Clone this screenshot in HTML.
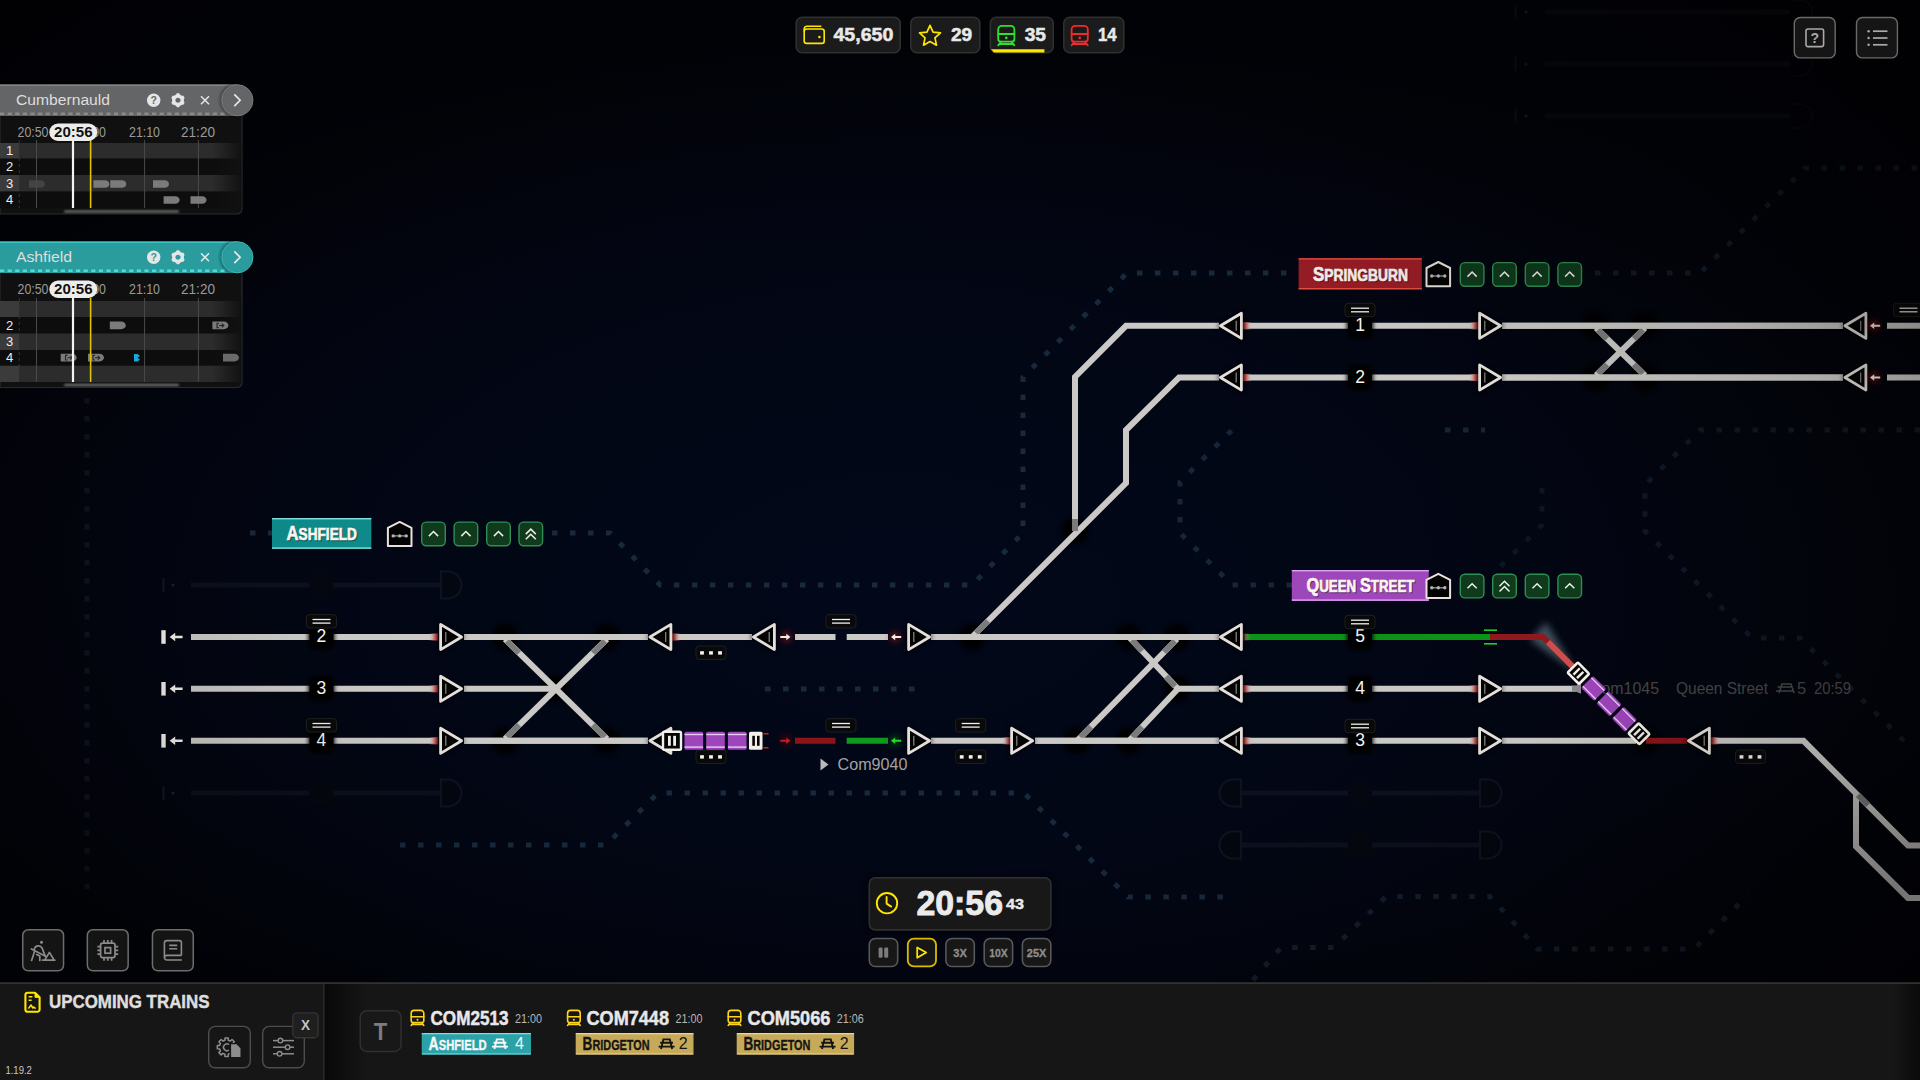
<!DOCTYPE html>
<html lang="en"><head><meta charset="utf-8"><title>Rail Route</title>
<style>html,body{margin:0;padding:0;background:#02040b;overflow:hidden}body{width:1920px;height:1080px;position:relative;font-family:"Liberation Sans", sans-serif}#bg{position:absolute;left:0;top:0;width:1920px;height:1080px;background:radial-gradient(ellipse 1000px 560px at 900px 600px,#02081a 0%,#020716 45%,rgba(2,5,14,0) 100%),radial-gradient(ellipse 1300px 800px at 900px 560px,#020511 0%,#02040b 70%,#010207 100%)}svg{position:absolute;left:0;top:0}text{font-family:"Liberation Sans", sans-serif}</style></head><body>
<div id="bg"></div>
<svg width="1920" height="1080" viewBox="0 0 1920 1080">
<defs>
<filter id="b1" x="-50%" y="-50%" width="200%" height="200%"><feGaussianBlur stdDeviation="1"/></filter>
<filter id="b2" x="-50%" y="-50%" width="200%" height="200%"><feGaussianBlur stdDeviation="2"/></filter>
<filter id="b25" x="-50%" y="-50%" width="200%" height="200%"><feGaussianBlur stdDeviation="2.6"/></filter>
<filter id="b3" x="-50%" y="-50%" width="200%" height="200%"><feGaussianBlur stdDeviation="3.5"/></filter>
<filter id="b8" x="-50%" y="-50%" width="200%" height="200%"><feGaussianBlur stdDeviation="8"/></filter>
<linearGradient id="rfR" x1="0" x2="1" y1="0" y2="0"><stop offset="0" stop-color="#a81616"/><stop offset="0.4" stop-color="#c8605a" stop-opacity="0.85"/><stop offset="1" stop-color="#d9b9b5" stop-opacity="0"/></linearGradient>
<linearGradient id="rfL" x1="1" x2="0" y1="0" y2="0"><stop offset="0" stop-color="#a81616"/><stop offset="0.4" stop-color="#c8605a" stop-opacity="0.85"/><stop offset="1" stop-color="#d9b9b5" stop-opacity="0"/></linearGradient>
<linearGradient id="fadeR" x1="0" x2="1" y1="0" y2="0"><stop offset="0" stop-color="#111" stop-opacity="0"/><stop offset="1" stop-color="#111" stop-opacity="1"/></linearGradient>
</defs>
<g id="map">
<path d="M250,533 H272" fill="none" stroke="#19293d" stroke-width="5" stroke-dasharray="5.5 12.5" opacity="1.0"/>
<path d="M552,533 H610 L660,585 H972 L1023,533 V377 L1127,273 H1298" fill="none" stroke="#19293d" stroke-width="5" stroke-dasharray="5.5 12.5" opacity="1.0"/>
<path d="M1595,273 H1700 L1805,168 H1920" fill="none" stroke="#19293d" stroke-width="5" stroke-dasharray="5.5 12.5" opacity="0.6"/>
<path d="M765,689 H915" fill="none" stroke="#19293d" stroke-width="5" stroke-dasharray="5.5 12.5" opacity="1.0"/>
<path d="M400,845 H606 L658,793 H1024 L1128,897 H1225" fill="none" stroke="#19293d" stroke-width="5" stroke-dasharray="5.5 12.5" opacity="1.0"/>
<path d="M1292,585 H1232 L1180,533 V482 L1232,430" fill="none" stroke="#19293d" stroke-width="5" stroke-dasharray="5.5 12.5" opacity="0.9"/>
<path d="M1445,430 H1485" fill="none" stroke="#19293d" stroke-width="5" stroke-dasharray="5.5 12.5" opacity="0.9"/>
<path d="M1920,430 H1700 L1645,485 V531 L1752,638 H1800 L1905,742" fill="none" stroke="#19293d" stroke-width="5" stroke-dasharray="5.5 12.5" opacity="0.5"/>
<path d="M1542,488 V525 L1492,575" fill="none" stroke="#19293d" stroke-width="5" stroke-dasharray="5.5 12.5" opacity="0.45"/>
<path d="M1540,0 L1640,100 L1760,221 L1920,221" fill="none" stroke="#19293d" stroke-width="5" stroke-dasharray="5.5 12.5" opacity="0.0"/>
<path d="M87,380 V900" fill="none" stroke="#19293d" stroke-width="5" stroke-dasharray="5.5 12.5" opacity="0.45"/>
<path d="M1040,100 H1180 L1230,50" fill="none" stroke="#19293d" stroke-width="5" stroke-dasharray="5.5 12.5" opacity="0.0"/>
<path d="M1253,980 L1281,947.5 H1334 L1386,896.5 H1490 L1537.5,949 H1694 L1748,895" fill="none" stroke="#19293d" stroke-width="5" stroke-dasharray="5.5 12.5" opacity="0.7"/>
<g opacity="0.5"><line x1="191" y1="585" x2="440" y2="585" stroke="#151b26" stroke-width="5"/><rect x="309" y="573" width="24" height="24" rx="5" fill="#06080c"/><path d="M441,571.5 h7 a13.5,13.5 0 0 1 0,27 h-7 z" fill="#05070b" stroke="#18202c" stroke-width="2"/><line x1="163.5" y1="578" x2="163.5" y2="592" stroke="#222a38" stroke-width="2"/><circle cx="173" cy="585" r="1.6" fill="#2b3f66"/></g>
<g opacity="0.5"><line x1="191" y1="793" x2="440" y2="793" stroke="#151b26" stroke-width="5"/><rect x="309" y="781" width="24" height="24" rx="5" fill="#06080c"/><path d="M441,779.5 h7 a13.5,13.5 0 0 1 0,27 h-7 z" fill="#05070b" stroke="#18202c" stroke-width="2"/><line x1="163.5" y1="786" x2="163.5" y2="800" stroke="#222a38" stroke-width="2"/><circle cx="173" cy="793" r="1.6" fill="#2b3f66"/></g>
<g opacity="0.5"><line x1="1242" y1="793" x2="1479" y2="793" stroke="#151b26" stroke-width="5"/><rect x="1348" y="781" width="24" height="24" rx="5" fill="#06080c"/><path d="M1480,779.5 h8 a13.5,13.5 0 0 1 0,27 h-8 z" fill="#05070b" stroke="#18202c" stroke-width="2"/><path d="M1241,779.5 h-8 a13.5,13.5 0 0 0 0,27 h8 z" fill="#05070b" stroke="#18202c" stroke-width="2"/></g>
<g opacity="0.5"><line x1="1242" y1="845" x2="1479" y2="845" stroke="#151b26" stroke-width="5"/><rect x="1348" y="833" width="24" height="24" rx="5" fill="#06080c"/><path d="M1480,831.5 h8 a13.5,13.5 0 0 1 0,27 h-8 z" fill="#05070b" stroke="#18202c" stroke-width="2"/><path d="M1241,831.5 h-8 a13.5,13.5 0 0 0 0,27 h8 z" fill="#05070b" stroke="#18202c" stroke-width="2"/></g>
<g opacity="0.5"><line x1="1545" y1="12" x2="1790" y2="12" stroke="#0e131c" stroke-width="5"/><line x1="1515.5" y1="5" x2="1515.5" y2="19" stroke="#1a2231" stroke-width="2"/><circle cx="1526" cy="12" r="1.6" fill="#2b3f66"/><path d="M1792,0 h8 a12,12 0 0 1 0,24 h-8" fill="none" stroke="#0c1018" stroke-width="2"/></g>
<g opacity="0.5"><line x1="1545" y1="64" x2="1790" y2="64" stroke="#0e131c" stroke-width="5"/><line x1="1515.5" y1="57" x2="1515.5" y2="71" stroke="#1a2231" stroke-width="2"/><circle cx="1526" cy="64" r="1.6" fill="#2b3f66"/><path d="M1792,52 h8 a12,12 0 0 1 0,24 h-8" fill="none" stroke="#0c1018" stroke-width="2"/></g>
<g opacity="0.5"><line x1="1545" y1="116" x2="1790" y2="116" stroke="#0e131c" stroke-width="5"/><line x1="1515.5" y1="109" x2="1515.5" y2="123" stroke="#1a2231" stroke-width="2"/><circle cx="1526" cy="116" r="1.6" fill="#2b3f66"/><path d="M1792,104 h8 a12,12 0 0 1 0,24 h-8" fill="none" stroke="#0c1018" stroke-width="2"/></g>
<circle cx="505" cy="637.0" r="13.5" fill="#000" opacity="0.92" filter="url(#b25)"/>
<circle cx="607" cy="637.0" r="13.5" fill="#000" opacity="0.92" filter="url(#b25)"/>
<circle cx="505" cy="740.8" r="13.5" fill="#000" opacity="0.92" filter="url(#b25)"/>
<circle cx="607" cy="740.8" r="13.5" fill="#000" opacity="0.92" filter="url(#b25)"/>
<circle cx="972" cy="637.0" r="13.5" fill="#000" opacity="0.92" filter="url(#b25)"/>
<circle cx="1129" cy="637.0" r="13.5" fill="#000" opacity="0.92" filter="url(#b25)"/>
<circle cx="1177" cy="637.0" r="13.5" fill="#000" opacity="0.92" filter="url(#b25)"/>
<circle cx="1177" cy="688.8" r="13.5" fill="#000" opacity="0.92" filter="url(#b25)"/>
<circle cx="1077" cy="740.8" r="13.5" fill="#000" opacity="0.92" filter="url(#b25)"/>
<circle cx="1129" cy="740.8" r="13.5" fill="#000" opacity="0.92" filter="url(#b25)"/>
<circle cx="1596" cy="325.8" r="13.5" fill="#000" opacity="0.92" filter="url(#b25)"/>
<circle cx="1645" cy="325.8" r="13.5" fill="#000" opacity="0.92" filter="url(#b25)"/>
<circle cx="1596" cy="377.5" r="13.5" fill="#000" opacity="0.92" filter="url(#b25)"/>
<circle cx="1645" cy="377.5" r="13.5" fill="#000" opacity="0.92" filter="url(#b25)"/>
<circle cx="1075" cy="531" r="13.5" fill="#000" opacity="0.92" filter="url(#b25)"/>
<circle cx="1646" cy="740.8" r="13.5" fill="#000" opacity="0.92" filter="url(#b25)"/>
<circle cx="555" cy="688.8" r="13.5" fill="#000" opacity="0.92" filter="url(#b25)"/>
<rect x="161.3" y="630.2" width="4.4" height="13.6" fill="#f4efe9"/>
<path d="M169.6,637.0 l5.6,-4.2 v2.9 h7.4 v2.6 h-7.4 v2.9 z" fill="#f6f1ec"/>
<line x1="191" y1="637.0" x2="309.5" y2="637.0" stroke="#cbc9c6" stroke-width="6" />
<line x1="333.5" y1="637.0" x2="438" y2="637.0" stroke="#cbc9c6" stroke-width="6" />
<rect x="429" y="633.4" width="9" height="7.2" fill="url(#rfL)"/>
<rect x="161.3" y="682.0" width="4.4" height="13.6" fill="#f4efe9"/>
<path d="M169.6,688.8 l5.6,-4.2 v2.9 h7.4 v2.6 h-7.4 v2.9 z" fill="#f6f1ec"/>
<line x1="191" y1="688.8" x2="309.5" y2="688.8" stroke="#cbc9c6" stroke-width="6" />
<line x1="333.5" y1="688.8" x2="438" y2="688.8" stroke="#cbc9c6" stroke-width="6" />
<rect x="429" y="685.1999999999999" width="9" height="7.2" fill="url(#rfL)"/>
<rect x="161.3" y="734.0" width="4.4" height="13.6" fill="#f4efe9"/>
<path d="M169.6,740.8 l5.6,-4.2 v2.9 h7.4 v2.6 h-7.4 v2.9 z" fill="#f6f1ec"/>
<line x1="191" y1="740.8" x2="309.5" y2="740.8" stroke="#cbc9c6" stroke-width="6" />
<line x1="333.5" y1="740.8" x2="438" y2="740.8" stroke="#cbc9c6" stroke-width="6" />
<rect x="429" y="737.1999999999999" width="9" height="7.2" fill="url(#rfL)"/>
<line x1="464" y1="637.0" x2="648" y2="637.0" stroke="#cbc9c6" stroke-width="6" />
<line x1="464" y1="740.8" x2="648" y2="740.8" stroke="#cbc9c6" stroke-width="6" />
<line x1="464" y1="688.8" x2="557" y2="688.8" stroke="#cbc9c6" stroke-width="6" />
<line x1="505" y1="639.0" x2="607" y2="738.8" stroke="#cbc9c6" stroke-width="6" />
<line x1="607" y1="639.0" x2="505" y2="738.8" stroke="#cbc9c6" stroke-width="6" />
<line x1="507" y1="641.0" x2="519" y2="653.0" stroke="#7b7b7b" stroke-width="6" />
<line x1="605" y1="641.0" x2="593" y2="653.0" stroke="#7b7b7b" stroke-width="6" />
<line x1="507" y1="736.8" x2="519" y2="724.8" stroke="#7b7b7b" stroke-width="6" />
<line x1="605" y1="736.8" x2="593" y2="724.8" stroke="#7b7b7b" stroke-width="6" />
<line x1="464" y1="637.0" x2="648" y2="637.0" stroke="#cbc9c6" stroke-width="6" />
<line x1="464" y1="740.8" x2="648" y2="740.8" stroke="#cbc9c6" stroke-width="6" />
<line x1="672" y1="637.0" x2="752" y2="637.0" stroke="#cbc9c6" stroke-width="6" />
<rect x="672" y="633.4" width="9" height="7.2" fill="url(#rfR)"/>
<line x1="795" y1="637.0" x2="835.5" y2="637.0" stroke="#cbc9c6" stroke-width="6" />
<line x1="846.7" y1="637.0" x2="888" y2="637.0" stroke="#cbc9c6" stroke-width="6" />
<line x1="931" y1="637.0" x2="1219" y2="637.0" stroke="#cbc9c6" stroke-width="6" />
<line x1="795" y1="740.8" x2="835.5" y2="740.8" stroke="#8c1418" stroke-width="6" />
<line x1="846.7" y1="740.8" x2="888" y2="740.8" stroke="#0f9a1c" stroke-width="6" />
<line x1="931" y1="740.8" x2="1011" y2="740.8" stroke="#cbc9c6" stroke-width="6" />
<rect x="1002" y="737.1999999999999" width="9" height="7.2" fill="url(#rfL)"/>
<line x1="1035" y1="740.8" x2="1219" y2="740.8" stroke="#cbc9c6" stroke-width="6" />
<path d="M972,637.0 L1126,483 V430 L1179,377.5 H1219" fill="none" stroke="#cbc9c6" stroke-width="6" />
<path d="M1075,531 V377 L1126,325.8 H1219" fill="none" stroke="#cbc9c6" stroke-width="6" />
<line x1="976" y1="633.0" x2="988" y2="621.0" stroke="#7b7b7b" stroke-width="6" />
<line x1="1075" y1="531" x2="1075" y2="519" stroke="#7b7b7b" stroke-width="6" />
<line x1="931" y1="637.0" x2="1219" y2="637.0" stroke="#cbc9c6" stroke-width="6" />
<line x1="1129" y1="637.0" x2="1178" y2="688.8" stroke="#cbc9c6" stroke-width="6" />
<line x1="1177" y1="688.8" x2="1219" y2="688.8" stroke="#cbc9c6" stroke-width="6" />
<line x1="1177" y1="639.0" x2="1078" y2="739.8" stroke="#cbc9c6" stroke-width="6" />
<line x1="1178" y1="688.8" x2="1130" y2="739.8" stroke="#cbc9c6" stroke-width="6" />
<line x1="1132" y1="640.0" x2="1142" y2="651.0" stroke="#7b7b7b" stroke-width="6" />
<line x1="1175" y1="641.0" x2="1164" y2="652.0" stroke="#7b7b7b" stroke-width="6" />
<line x1="1080.5" y1="737.3" x2="1091" y2="726.8" stroke="#7b7b7b" stroke-width="6" />
<line x1="1132.5" y1="737.3" x2="1142" y2="726.8" stroke="#7b7b7b" stroke-width="6" />
<line x1="1166" y1="676.8" x2="1175" y2="686.3" stroke="#7b7b7b" stroke-width="6" />
<line x1="931" y1="637.0" x2="1219" y2="637.0" stroke="#cbc9c6" stroke-width="6" />
<line x1="1035" y1="740.8" x2="1219" y2="740.8" stroke="#cbc9c6" stroke-width="6" />
<line x1="1243" y1="325.8" x2="1348" y2="325.8" stroke="#cbc9c6" stroke-width="6" />
<line x1="1372" y1="325.8" x2="1478" y2="325.8" stroke="#cbc9c6" stroke-width="6" />
<rect x="1243" y="322.2" width="9" height="7.2" fill="url(#rfR)"/>
<rect x="1469" y="322.2" width="9" height="7.2" fill="url(#rfL)"/>
<line x1="1502" y1="325.8" x2="1843" y2="325.8" stroke="#cbc9c6" stroke-width="6" />
<line x1="1887" y1="325.8" x2="1920" y2="325.8" stroke="#cbc9c6" stroke-width="6" />
<line x1="1243" y1="377.5" x2="1348" y2="377.5" stroke="#cbc9c6" stroke-width="6" />
<line x1="1372" y1="377.5" x2="1478" y2="377.5" stroke="#cbc9c6" stroke-width="6" />
<rect x="1243" y="373.9" width="9" height="7.2" fill="url(#rfR)"/>
<rect x="1469" y="373.9" width="9" height="7.2" fill="url(#rfL)"/>
<line x1="1502" y1="377.5" x2="1843" y2="377.5" stroke="#cbc9c6" stroke-width="6" />
<line x1="1887" y1="377.5" x2="1920" y2="377.5" stroke="#cbc9c6" stroke-width="6" />
<line x1="1596" y1="327.8" x2="1645" y2="375.5" stroke="#cbc9c6" stroke-width="6" />
<line x1="1645" y1="327.8" x2="1596" y2="375.5" stroke="#cbc9c6" stroke-width="6" />
<line x1="1598" y1="329.8" x2="1607" y2="338.8" stroke="#7b7b7b" stroke-width="6" />
<line x1="1643" y1="329.8" x2="1634" y2="338.8" stroke="#7b7b7b" stroke-width="6" />
<line x1="1598" y1="373.5" x2="1607" y2="364.5" stroke="#7b7b7b" stroke-width="6" />
<line x1="1643" y1="373.5" x2="1634" y2="364.5" stroke="#7b7b7b" stroke-width="6" />
<line x1="1502" y1="325.8" x2="1843" y2="325.8" stroke="#cbc9c6" stroke-width="6" />
<line x1="1502" y1="377.5" x2="1843" y2="377.5" stroke="#cbc9c6" stroke-width="6" />
<line x1="1245" y1="637.0" x2="1348" y2="637.0" stroke="#0d9218" stroke-width="6" />
<line x1="1372" y1="637.0" x2="1490" y2="637.0" stroke="#0d9218" stroke-width="6" />
<rect x="1242" y="633.5" width="8" height="7" fill="url(#rfR)" opacity="0.6"/>
<path d="M1577,673 L1530,640 L1546,622 Z" fill="#7d97a8" opacity="0.5" filter="url(#b3)"/>
<path d="M1490,637.0 H1543 L1580,674.0" fill="none" stroke="#8e1a1d" stroke-width="6" />
<path d="M1548,642.0 L1582,676.0" fill="none" stroke="#c9504c" stroke-width="6" />
<line x1="1484" y1="630.2" x2="1497" y2="630.2" stroke="#1fd02a" stroke-width="1.6" />
<line x1="1484" y1="643.8" x2="1497" y2="643.8" stroke="#1fd02a" stroke-width="1.6" />
<line x1="1243" y1="688.8" x2="1348" y2="688.8" stroke="#cbc9c6" stroke-width="6" />
<line x1="1372" y1="688.8" x2="1478" y2="688.8" stroke="#cbc9c6" stroke-width="6" />
<rect x="1243" y="685.1999999999999" width="9" height="7.2" fill="url(#rfR)"/>
<rect x="1469" y="685.1999999999999" width="9" height="7.2" fill="url(#rfL)"/>
<line x1="1243" y1="740.8" x2="1348" y2="740.8" stroke="#cbc9c6" stroke-width="6" />
<line x1="1372" y1="740.8" x2="1478" y2="740.8" stroke="#cbc9c6" stroke-width="6" />
<rect x="1243" y="737.1999999999999" width="9" height="7.2" fill="url(#rfR)"/>
<rect x="1469" y="737.1999999999999" width="9" height="7.2" fill="url(#rfL)"/>
<line x1="1502" y1="688.8" x2="1576" y2="688.8" stroke="#cbc9c6" stroke-width="6" />
<path d="M1572,685.8 h4 l5,-4 v12 l-5,-2 h-4 z" fill="#8a8a8a"/>
<line x1="1502" y1="740.8" x2="1636" y2="740.8" stroke="#cbc9c6" stroke-width="6" />
<line x1="1646" y1="740.8" x2="1687" y2="740.8" stroke="#8c1418" stroke-width="6" />
<path d="M1711,740.8 H1803.5 L1908,845.5 H1920" fill="none" stroke="#cbc9c6" stroke-width="6" />
<path d="M1856,793 V846.5 L1908,898 H1920" fill="none" stroke="#cbc9c6" stroke-width="6" />
<rect x="1711" y="737.1999999999999" width="9" height="7.2" fill="url(#rfR)"/>
<line x1="1858" y1="795" x2="1868" y2="805" stroke="#7b7b7b" stroke-width="6" />
<polygon points="440.6,624.4 440.6,649.6 461.6,637.0" fill="#000" stroke="#000" stroke-width="6" stroke-linejoin="round" opacity="0.55" filter="url(#b2)"/>
<polygon points="440.6,624.4 440.6,649.6 461.6,637.0" fill="#020202" stroke="#e4dfda" stroke-width="2.8" stroke-linejoin="round"/>
<line x1="445.8" y1="632.0" x2="445.8" y2="642.0" stroke="#8d8a88" stroke-width="1.2"/>
<polygon points="440.6,676.1999999999999 440.6,701.4 461.6,688.8" fill="#000" stroke="#000" stroke-width="6" stroke-linejoin="round" opacity="0.55" filter="url(#b2)"/>
<polygon points="440.6,676.1999999999999 440.6,701.4 461.6,688.8" fill="#020202" stroke="#e4dfda" stroke-width="2.8" stroke-linejoin="round"/>
<line x1="445.8" y1="683.8" x2="445.8" y2="693.8" stroke="#8d8a88" stroke-width="1.2"/>
<polygon points="440.6,728.1999999999999 440.6,753.4 461.6,740.8" fill="#000" stroke="#000" stroke-width="6" stroke-linejoin="round" opacity="0.55" filter="url(#b2)"/>
<polygon points="440.6,728.1999999999999 440.6,753.4 461.6,740.8" fill="#020202" stroke="#e4dfda" stroke-width="2.8" stroke-linejoin="round"/>
<line x1="445.8" y1="735.8" x2="445.8" y2="745.8" stroke="#8d8a88" stroke-width="1.2"/>
<polygon points="670.9,624.4 670.9,649.6 649.9,637.0" fill="#000" stroke="#000" stroke-width="6" stroke-linejoin="round" opacity="0.55" filter="url(#b2)"/>
<polygon points="670.9,624.4 670.9,649.6 649.9,637.0" fill="#020202" stroke="#e4dfda" stroke-width="2.8" stroke-linejoin="round"/>
<line x1="665.7" y1="632.0" x2="665.7" y2="642.0" stroke="#8d8a88" stroke-width="1.2"/>
<polygon points="774.4,624.4 774.4,649.6 753.4,637.0" fill="#000" stroke="#000" stroke-width="6" stroke-linejoin="round" opacity="0.55" filter="url(#b2)"/>
<polygon points="774.4,624.4 774.4,649.6 753.4,637.0" fill="#020202" stroke="#e4dfda" stroke-width="2.8" stroke-linejoin="round"/>
<line x1="769.2" y1="632.0" x2="769.2" y2="642.0" stroke="#8d8a88" stroke-width="1.2"/>
<polygon points="908.6,624.4 908.6,649.6 929.6,637.0" fill="#000" stroke="#000" stroke-width="6" stroke-linejoin="round" opacity="0.55" filter="url(#b2)"/>
<polygon points="908.6,624.4 908.6,649.6 929.6,637.0" fill="#020202" stroke="#e4dfda" stroke-width="2.8" stroke-linejoin="round"/>
<line x1="913.8" y1="632.0" x2="913.8" y2="642.0" stroke="#8d8a88" stroke-width="1.2"/>
<polygon points="670.9,728.1999999999999 670.9,753.4 649.9,740.8" fill="#000" stroke="#000" stroke-width="6" stroke-linejoin="round" opacity="0.55" filter="url(#b2)"/>
<polygon points="670.9,728.1999999999999 670.9,753.4 649.9,740.8" fill="#020202" stroke="#e4dfda" stroke-width="2.8" stroke-linejoin="round"/>
<line x1="665.7" y1="735.8" x2="665.7" y2="745.8" stroke="#8d8a88" stroke-width="1.2"/>
<polygon points="908.6,728.1999999999999 908.6,753.4 929.6,740.8" fill="#000" stroke="#000" stroke-width="6" stroke-linejoin="round" opacity="0.55" filter="url(#b2)"/>
<polygon points="908.6,728.1999999999999 908.6,753.4 929.6,740.8" fill="#020202" stroke="#e4dfda" stroke-width="2.8" stroke-linejoin="round"/>
<line x1="913.8" y1="735.8" x2="913.8" y2="745.8" stroke="#8d8a88" stroke-width="1.2"/>
<polygon points="1011.6,728.1999999999999 1011.6,753.4 1032.6,740.8" fill="#000" stroke="#000" stroke-width="6" stroke-linejoin="round" opacity="0.55" filter="url(#b2)"/>
<polygon points="1011.6,728.1999999999999 1011.6,753.4 1032.6,740.8" fill="#020202" stroke="#e4dfda" stroke-width="2.8" stroke-linejoin="round"/>
<line x1="1016.8" y1="735.8" x2="1016.8" y2="745.8" stroke="#8d8a88" stroke-width="1.2"/>
<polygon points="1241.4,313.2 1241.4,338.40000000000003 1220.4,325.8" fill="#000" stroke="#000" stroke-width="6" stroke-linejoin="round" opacity="0.55" filter="url(#b2)"/>
<polygon points="1241.4,313.2 1241.4,338.40000000000003 1220.4,325.8" fill="#020202" stroke="#e4dfda" stroke-width="2.8" stroke-linejoin="round"/>
<line x1="1236.2" y1="320.8" x2="1236.2" y2="330.8" stroke="#8d8a88" stroke-width="1.2"/>
<polygon points="1479.6,313.2 1479.6,338.40000000000003 1500.6,325.8" fill="#000" stroke="#000" stroke-width="6" stroke-linejoin="round" opacity="0.55" filter="url(#b2)"/>
<polygon points="1479.6,313.2 1479.6,338.40000000000003 1500.6,325.8" fill="#020202" stroke="#e4dfda" stroke-width="2.8" stroke-linejoin="round"/>
<line x1="1484.8" y1="320.8" x2="1484.8" y2="330.8" stroke="#8d8a88" stroke-width="1.2"/>
<polygon points="1865.9,313.2 1865.9,338.40000000000003 1844.9,325.8" fill="#000" stroke="#000" stroke-width="6" stroke-linejoin="round" opacity="0.55" filter="url(#b2)"/>
<polygon points="1865.9,313.2 1865.9,338.40000000000003 1844.9,325.8" fill="#020202" stroke="#e4dfda" stroke-width="2.8" stroke-linejoin="round"/>
<line x1="1860.7" y1="320.8" x2="1860.7" y2="330.8" stroke="#8d8a88" stroke-width="1.2"/>
<polygon points="1241.4,364.9 1241.4,390.1 1220.4,377.5" fill="#000" stroke="#000" stroke-width="6" stroke-linejoin="round" opacity="0.55" filter="url(#b2)"/>
<polygon points="1241.4,364.9 1241.4,390.1 1220.4,377.5" fill="#020202" stroke="#e4dfda" stroke-width="2.8" stroke-linejoin="round"/>
<line x1="1236.2" y1="372.5" x2="1236.2" y2="382.5" stroke="#8d8a88" stroke-width="1.2"/>
<polygon points="1479.6,364.9 1479.6,390.1 1500.6,377.5" fill="#000" stroke="#000" stroke-width="6" stroke-linejoin="round" opacity="0.55" filter="url(#b2)"/>
<polygon points="1479.6,364.9 1479.6,390.1 1500.6,377.5" fill="#020202" stroke="#e4dfda" stroke-width="2.8" stroke-linejoin="round"/>
<line x1="1484.8" y1="372.5" x2="1484.8" y2="382.5" stroke="#8d8a88" stroke-width="1.2"/>
<polygon points="1865.9,364.9 1865.9,390.1 1844.9,377.5" fill="#000" stroke="#000" stroke-width="6" stroke-linejoin="round" opacity="0.55" filter="url(#b2)"/>
<polygon points="1865.9,364.9 1865.9,390.1 1844.9,377.5" fill="#020202" stroke="#e4dfda" stroke-width="2.8" stroke-linejoin="round"/>
<line x1="1860.7" y1="372.5" x2="1860.7" y2="382.5" stroke="#8d8a88" stroke-width="1.2"/>
<polygon points="1241.4,624.4 1241.4,649.6 1220.4,637.0" fill="#000" stroke="#000" stroke-width="6" stroke-linejoin="round" opacity="0.55" filter="url(#b2)"/>
<polygon points="1241.4,624.4 1241.4,649.6 1220.4,637.0" fill="#020202" stroke="#e4dfda" stroke-width="2.8" stroke-linejoin="round"/>
<line x1="1236.2" y1="632.0" x2="1236.2" y2="642.0" stroke="#8d8a88" stroke-width="1.2"/>
<polygon points="1241.4,676.1999999999999 1241.4,701.4 1220.4,688.8" fill="#000" stroke="#000" stroke-width="6" stroke-linejoin="round" opacity="0.55" filter="url(#b2)"/>
<polygon points="1241.4,676.1999999999999 1241.4,701.4 1220.4,688.8" fill="#020202" stroke="#e4dfda" stroke-width="2.8" stroke-linejoin="round"/>
<line x1="1236.2" y1="683.8" x2="1236.2" y2="693.8" stroke="#8d8a88" stroke-width="1.2"/>
<polygon points="1241.4,728.1999999999999 1241.4,753.4 1220.4,740.8" fill="#000" stroke="#000" stroke-width="6" stroke-linejoin="round" opacity="0.55" filter="url(#b2)"/>
<polygon points="1241.4,728.1999999999999 1241.4,753.4 1220.4,740.8" fill="#020202" stroke="#e4dfda" stroke-width="2.8" stroke-linejoin="round"/>
<line x1="1236.2" y1="735.8" x2="1236.2" y2="745.8" stroke="#8d8a88" stroke-width="1.2"/>
<polygon points="1479.6,676.1999999999999 1479.6,701.4 1500.6,688.8" fill="#000" stroke="#000" stroke-width="6" stroke-linejoin="round" opacity="0.55" filter="url(#b2)"/>
<polygon points="1479.6,676.1999999999999 1479.6,701.4 1500.6,688.8" fill="#020202" stroke="#e4dfda" stroke-width="2.8" stroke-linejoin="round"/>
<line x1="1484.8" y1="683.8" x2="1484.8" y2="693.8" stroke="#8d8a88" stroke-width="1.2"/>
<polygon points="1479.6,728.1999999999999 1479.6,753.4 1500.6,740.8" fill="#000" stroke="#000" stroke-width="6" stroke-linejoin="round" opacity="0.55" filter="url(#b2)"/>
<polygon points="1479.6,728.1999999999999 1479.6,753.4 1500.6,740.8" fill="#020202" stroke="#e4dfda" stroke-width="2.8" stroke-linejoin="round"/>
<line x1="1484.8" y1="735.8" x2="1484.8" y2="745.8" stroke="#8d8a88" stroke-width="1.2"/>
<polygon points="1709.4,728.1999999999999 1709.4,753.4 1688.4,740.8" fill="#000" stroke="#000" stroke-width="6" stroke-linejoin="round" opacity="0.55" filter="url(#b2)"/>
<polygon points="1709.4,728.1999999999999 1709.4,753.4 1688.4,740.8" fill="#020202" stroke="#e4dfda" stroke-width="2.8" stroke-linejoin="round"/>
<line x1="1704.2" y1="735.8" x2="1704.2" y2="745.8" stroke="#8d8a88" stroke-width="1.2"/>
<circle cx="786.5" cy="637.0" r="5" fill="#c01818" opacity="0.55" filter="url(#b3)"/>
<path d="M790.5,637.0 l-4.2,-3.3 v2.3 h-6 v2 h6 v2.3 z" fill="#f3ece6"/>
<circle cx="895" cy="637.0" r="5" fill="#c01818" opacity="0.55" filter="url(#b3)"/>
<path d="M891,637.0 l4.2,-3.3 v2.3 h6 v2 h-6 v2.3 z" fill="#f3ece6"/>
<circle cx="786.5" cy="740.8" r="5" fill="#7a0000" opacity="0.55" filter="url(#b3)"/>
<path d="M790.5,740.8 l-4.2,-3.3 v2.3 h-6 v2 h6 v2.3 z" fill="#c41a1a"/>
<circle cx="895" cy="740.8" r="5" fill="#0a7a10" opacity="0.55" filter="url(#b3)"/>
<path d="M891,740.8 l4.2,-3.3 v2.3 h6 v2 h-6 v2.3 z" fill="#25d62e"/>
<circle cx="1874" cy="325.8" r="5" fill="#c01818" opacity="0.55" filter="url(#b3)"/>
<path d="M1870,325.8 l4.2,-3.3 v2.3 h6 v2 h-6 v2.3 z" fill="#f3ece6"/>
<circle cx="1874" cy="377.5" r="5" fill="#c01818" opacity="0.55" filter="url(#b3)"/>
<path d="M1870,377.5 l4.2,-3.3 v2.3 h6 v2 h-6 v2.3 z" fill="#f3ece6"/>
<rect x="308.4" y="624.0" width="26" height="26" rx="6" fill="#040404" filter="url(#b2)"/>
<text x="321.4" y="642.4" font-size="17.5" fill="#f4f4f4" text-anchor="middle">2</text>
<rect x="308.4" y="675.8" width="26" height="26" rx="6" fill="#040404" filter="url(#b2)"/>
<text x="321.4" y="694.1999999999999" font-size="17.5" fill="#f4f4f4" text-anchor="middle">3</text>
<rect x="308.4" y="727.8" width="26" height="26" rx="6" fill="#040404" filter="url(#b2)"/>
<text x="321.4" y="746.1999999999999" font-size="17.5" fill="#f4f4f4" text-anchor="middle">4</text>
<rect x="1347" y="312.8" width="26" height="26" rx="6" fill="#040404" filter="url(#b2)"/>
<text x="1360" y="331.2" font-size="17.5" fill="#f4f4f4" text-anchor="middle">1</text>
<rect x="1347" y="364.5" width="26" height="26" rx="6" fill="#040404" filter="url(#b2)"/>
<text x="1360" y="382.9" font-size="17.5" fill="#f4f4f4" text-anchor="middle">2</text>
<rect x="1347" y="624.0" width="26" height="26" rx="6" fill="#040404" filter="url(#b2)"/>
<text x="1360" y="642.4" font-size="17.5" fill="#f4f4f4" text-anchor="middle">5</text>
<rect x="1347" y="675.8" width="26" height="26" rx="6" fill="#040404" filter="url(#b2)"/>
<text x="1360" y="694.1999999999999" font-size="17.5" fill="#f4f4f4" text-anchor="middle">4</text>
<rect x="1347" y="727.8" width="26" height="26" rx="6" fill="#040404" filter="url(#b2)"/>
<text x="1360" y="746.1999999999999" font-size="17.5" fill="#f4f4f4" text-anchor="middle">3</text>
<rect x="306.5" y="614.5999999999999" width="30" height="13.4" rx="3" fill="#090909" stroke="#1f1f1f" stroke-width="1"/>
<line x1="312.5" y1="619.5" x2="330.5" y2="619.5" stroke="#f2f2f2" stroke-width="1.3"/>
<line x1="312.5" y1="623.0999999999999" x2="330.5" y2="623.0999999999999" stroke="#f2f2f2" stroke-width="1.3"/>
<rect x="306.5" y="718.5999999999999" width="30" height="13.4" rx="3" fill="#090909" stroke="#1f1f1f" stroke-width="1"/>
<line x1="312.5" y1="723.5" x2="330.5" y2="723.5" stroke="#f2f2f2" stroke-width="1.3"/>
<line x1="312.5" y1="727.0999999999999" x2="330.5" y2="727.0999999999999" stroke="#f2f2f2" stroke-width="1.3"/>
<rect x="826" y="614.5999999999999" width="30" height="13.4" rx="3" fill="#090909" stroke="#1f1f1f" stroke-width="1"/>
<line x1="832" y1="619.5" x2="850" y2="619.5" stroke="#f2f2f2" stroke-width="1.3"/>
<line x1="832" y1="623.0999999999999" x2="850" y2="623.0999999999999" stroke="#f2f2f2" stroke-width="1.3"/>
<rect x="826" y="718.5999999999999" width="30" height="13.4" rx="3" fill="#090909" stroke="#1f1f1f" stroke-width="1"/>
<line x1="832" y1="723.5" x2="850" y2="723.5" stroke="#f2f2f2" stroke-width="1.3"/>
<line x1="832" y1="727.0999999999999" x2="850" y2="727.0999999999999" stroke="#f2f2f2" stroke-width="1.3"/>
<rect x="955.7" y="718.5999999999999" width="30" height="13.4" rx="3" fill="#090909" stroke="#1f1f1f" stroke-width="1"/>
<line x1="961.7" y1="723.5" x2="979.7" y2="723.5" stroke="#f2f2f2" stroke-width="1.3"/>
<line x1="961.7" y1="727.0999999999999" x2="979.7" y2="727.0999999999999" stroke="#f2f2f2" stroke-width="1.3"/>
<rect x="696" y="646.0999999999999" width="30" height="13.4" rx="3" fill="#090909" stroke="#1f1f1f" stroke-width="1"/>
<rect x="700.1" y="651.1999999999999" width="3.8" height="3.4" fill="#f4f4f4"/>
<rect x="709.1" y="651.1999999999999" width="3.8" height="3.4" fill="#f4f4f4"/>
<rect x="718.1" y="651.1999999999999" width="3.8" height="3.4" fill="#f4f4f4"/>
<rect x="696" y="750.0999999999999" width="30" height="13.4" rx="3" fill="#090909" stroke="#1f1f1f" stroke-width="1"/>
<rect x="700.1" y="755.1999999999999" width="3.8" height="3.4" fill="#f4f4f4"/>
<rect x="709.1" y="755.1999999999999" width="3.8" height="3.4" fill="#f4f4f4"/>
<rect x="718.1" y="755.1999999999999" width="3.8" height="3.4" fill="#f4f4f4"/>
<rect x="955.7" y="750.0999999999999" width="30" height="13.4" rx="3" fill="#090909" stroke="#1f1f1f" stroke-width="1"/>
<rect x="959.8000000000001" y="755.1999999999999" width="3.8" height="3.4" fill="#f4f4f4"/>
<rect x="968.8000000000001" y="755.1999999999999" width="3.8" height="3.4" fill="#f4f4f4"/>
<rect x="977.8000000000001" y="755.1999999999999" width="3.8" height="3.4" fill="#f4f4f4"/>
<rect x="1345" y="303.3" width="30" height="13.4" rx="3" fill="#090909" stroke="#1f1f1f" stroke-width="1"/>
<line x1="1351" y1="308.2" x2="1369" y2="308.2" stroke="#f2f2f2" stroke-width="1.3"/>
<line x1="1351" y1="311.8" x2="1369" y2="311.8" stroke="#f2f2f2" stroke-width="1.3"/>
<rect x="1345" y="615.3" width="30" height="13.4" rx="3" fill="#090909" stroke="#1f1f1f" stroke-width="1"/>
<line x1="1351" y1="620.2" x2="1369" y2="620.2" stroke="#f2f2f2" stroke-width="1.3"/>
<line x1="1351" y1="623.8" x2="1369" y2="623.8" stroke="#f2f2f2" stroke-width="1.3"/>
<rect x="1345" y="719.3" width="30" height="13.4" rx="3" fill="#090909" stroke="#1f1f1f" stroke-width="1"/>
<line x1="1351" y1="724.2" x2="1369" y2="724.2" stroke="#f2f2f2" stroke-width="1.3"/>
<line x1="1351" y1="727.8" x2="1369" y2="727.8" stroke="#f2f2f2" stroke-width="1.3"/>
<rect x="1893.5" y="303.3" width="30" height="13.4" rx="3" fill="#090909" stroke="#1f1f1f" stroke-width="1"/>
<line x1="1899.5" y1="308.2" x2="1917.5" y2="308.2" stroke="#f2f2f2" stroke-width="1.3"/>
<line x1="1899.5" y1="311.8" x2="1917.5" y2="311.8" stroke="#f2f2f2" stroke-width="1.3"/>
<rect x="1735.5" y="750.0999999999999" width="30" height="13.4" rx="3" fill="#090909" stroke="#1f1f1f" stroke-width="1"/>
<rect x="1739.6" y="755.1999999999999" width="3.8" height="3.4" fill="#f4f4f4"/>
<rect x="1748.6" y="755.1999999999999" width="3.8" height="3.4" fill="#f4f4f4"/>
<rect x="1757.6" y="755.1999999999999" width="3.8" height="3.4" fill="#f4f4f4"/>
<path d="M820.5,758.5 v12 l8,-6 z" fill="#b9b9b9"/>
<text x="837.5" y="770" font-size="16.5" fill="#a2a2a2" textLength="70" lengthAdjust="spacingAndGlyphs">Com9040</text>
<text x="1590" y="694.3" font-size="16.5" fill="#454547" textLength="69" lengthAdjust="spacingAndGlyphs">Com1045</text>
<text x="1676" y="694.3" font-size="16.5" fill="#454547" textLength="92" lengthAdjust="spacingAndGlyphs">Queen Street</text>
<path d="M1779,693 l3,-9 h9 l3,9 M1777.5,687 h15 M1776,691 h18" fill="none" stroke="#454547" stroke-width="1.6"/>
<text x="1797" y="694.3" font-size="16.5" fill="#454547">5</text>
<text x="1814" y="694.3" font-size="16.5" fill="#454547" textLength="37" lengthAdjust="spacingAndGlyphs">20:59</text>
<g transform="translate(663,740.8)">
<rect x="0" y="-9" width="18" height="18" rx="1.5" fill="#050505" stroke="#f3efe9" stroke-width="2.4"/>
<rect x="5" y="-5" width="2.8" height="10" fill="#f3efe9"/><rect x="10.2" y="-5" width="2.8" height="10" fill="#f3efe9"/>
<rect x="21.5" y="-9" width="18.6" height="18" rx="1.5" fill="#9d45bb"/>
<rect x="21.5" y="-7" width="18.6" height="1.4" fill="#e9c8f3"/><rect x="21.5" y="5.6" width="18.6" height="1.4" fill="#e9c8f3"/>
<rect x="43.2" y="-9" width="18.6" height="18" rx="1.5" fill="#9d45bb"/>
<rect x="43.2" y="-7" width="18.6" height="1.4" fill="#e9c8f3"/><rect x="43.2" y="5.6" width="18.6" height="1.4" fill="#e9c8f3"/>
<rect x="64.9" y="-9" width="18.6" height="18" rx="1.5" fill="#9d45bb"/>
<rect x="64.9" y="-7" width="18.6" height="1.4" fill="#e9c8f3"/><rect x="64.9" y="5.6" width="18.6" height="1.4" fill="#e9c8f3"/>
<rect x="86" y="-9" width="13.5" height="18" rx="1.5" fill="#f3efe9"/>
<rect x="89.3" y="-5" width="2.6" height="10" fill="#050505"/><rect x="94" y="-5" width="2.6" height="10" fill="#050505"/>
<path d="M100.5,-7 h5 M100.5,7 h5" stroke="#d01c1c" stroke-width="1.6"/>
</g>
<g transform="translate(1608.6,703.4) rotate(45) translate(-52,0)">
<rect x="1.3" y="-7.2" width="16" height="14.4" rx="1" fill="#050505" stroke="#f5f1ea" stroke-width="2.6"/>
<rect x="5.6" y="-4.5" width="2.4" height="9" fill="#f3efe9"/><rect x="10.6" y="-4.5" width="2.4" height="9" fill="#f3efe9"/>
<rect x="21.6" y="-8.5" width="18.4" height="17" rx="1.5" fill="#9d45bb"/>
<rect x="21.6" y="-6.7" width="18.4" height="1.4" fill="#e9c8f3"/><rect x="21.6" y="5.300000000000001" width="18.4" height="1.4" fill="#e9c8f3"/>
<rect x="43.4" y="-8.5" width="18.4" height="17" rx="1.5" fill="#9d45bb"/>
<rect x="43.4" y="-6.7" width="18.4" height="1.4" fill="#e9c8f3"/><rect x="43.4" y="5.300000000000001" width="18.4" height="1.4" fill="#e9c8f3"/>
<rect x="65.2" y="-8.5" width="18.4" height="17" rx="1.5" fill="#9d45bb"/>
<rect x="65.2" y="-6.7" width="18.4" height="1.4" fill="#e9c8f3"/><rect x="65.2" y="5.300000000000001" width="18.4" height="1.4" fill="#e9c8f3"/>
<rect x="87.3" y="-7.2" width="15.4" height="14.4" rx="1" fill="#050505" stroke="#f5f1ea" stroke-width="2.6"/>
<rect x="91.3" y="-4.5" width="2.4" height="9" fill="#f3efe9"/><rect x="96.3" y="-4.5" width="2.4" height="9" fill="#f3efe9"/>
</g>
<rect x="272" y="518" width="99.3" height="30.8" fill="#0e8a8b"/>
<rect x="272" y="518" width="99.3" height="1.4" fill="#7fe3df"/>
<rect x="272" y="547.4" width="99.3" height="1.4" fill="#7fe3df"/>
<text x="287.4" y="541.3" font-weight="bold" fill="#000" opacity="0.45" stroke="#000" stroke-width="0.7" textLength="70.5" lengthAdjust="spacingAndGlyphs"><tspan font-size="21">A</tspan><tspan font-size="17.2">SHFIELD</tspan></text>
<text x="286.5" y="540.4" font-weight="bold" fill="#fbf6f0" stroke="#fbf6f0" stroke-width="0.7" textLength="70.5" lengthAdjust="spacingAndGlyphs"><tspan font-size="21">A</tspan><tspan font-size="17.2">SHFIELD</tspan></text>
<path d="M387.9,546.1 V527.9000000000001 L399.7,521.9000000000001 L411.5,527.9000000000001 V546.1 Z" fill="#030303" stroke="#e9e2da" stroke-width="2" stroke-linejoin="round"/>
<line x1="392.2" y1="535.9000000000001" x2="407.2" y2="535.9000000000001" stroke="#a9a9a9" stroke-width="1.2"/>
<circle cx="393.2" cy="535.9000000000001" r="1.7" fill="#b5b5b5"/>
<circle cx="399.7" cy="535.9000000000001" r="1.7" fill="#b5b5b5"/>
<circle cx="406.2" cy="535.9000000000001" r="1.7" fill="#b5b5b5"/>
<rect x="421.7" y="522.1" width="23.6" height="23.6" rx="4.5" fill="#0f3a1c" stroke="#2f8f55" stroke-width="1.4"/>
<path d="M428.9,536.1 l4.6,-4.6 l4.6,4.6" fill="none" stroke="#f0f0e8" stroke-width="1.5"/>
<rect x="454.09999999999997" y="522.1" width="23.6" height="23.6" rx="4.5" fill="#0f3a1c" stroke="#2f8f55" stroke-width="1.4"/>
<path d="M461.29999999999995,536.1 l4.6,-4.6 l4.6,4.6" fill="none" stroke="#f0f0e8" stroke-width="1.5"/>
<rect x="486.7" y="522.1" width="23.6" height="23.6" rx="4.5" fill="#0f3a1c" stroke="#2f8f55" stroke-width="1.4"/>
<path d="M493.9,536.1 l4.6,-4.6 l4.6,4.6" fill="none" stroke="#f0f0e8" stroke-width="1.5"/>
<rect x="519.0" y="522.1" width="23.6" height="23.6" rx="4.5" fill="#0f3a1c" stroke="#2f8f55" stroke-width="1.4"/>
<path d="M525.8,534.1 l5,-5 l5,5 M525.8,539.3 l5,-5 l5,5" fill="none" stroke="#f0f0e8" stroke-width="1.5"/>
<rect x="1298.6" y="258.2" width="123.2" height="31.2" fill="#9b1d26"/>
<rect x="1298.6" y="258.2" width="123.2" height="1.4" fill="#ea4d44"/>
<rect x="1298.6" y="288.0" width="123.2" height="1.4" fill="#ea4d44"/>
<text x="1313.9" y="281.7" font-weight="bold" fill="#000" opacity="0.45" stroke="#000" stroke-width="0.7" textLength="95" lengthAdjust="spacingAndGlyphs"><tspan font-size="21">S</tspan><tspan font-size="17.2">PRINGBURN</tspan></text>
<text x="1313" y="280.8" font-weight="bold" fill="#fbf6f0" stroke="#fbf6f0" stroke-width="0.7" textLength="95" lengthAdjust="spacingAndGlyphs"><tspan font-size="21">S</tspan><tspan font-size="17.2">PRINGBURN</tspan></text>
<path d="M1426.5,286.2 V268.0 L1438.3,262.0 L1450.1,268.0 V286.2 Z" fill="#030303" stroke="#e9e2da" stroke-width="2" stroke-linejoin="round"/>
<line x1="1430.8" y1="276.0" x2="1445.8" y2="276.0" stroke="#a9a9a9" stroke-width="1.2"/>
<circle cx="1431.8" cy="276.0" r="1.7" fill="#b5b5b5"/>
<circle cx="1438.3" cy="276.0" r="1.7" fill="#b5b5b5"/>
<circle cx="1444.8" cy="276.0" r="1.7" fill="#b5b5b5"/>
<rect x="1460.3" y="262.59999999999997" width="23.6" height="23.6" rx="4.5" fill="#0f3a1c" stroke="#2f8f55" stroke-width="1.4"/>
<path d="M1467.5,276.59999999999997 l4.6,-4.6 l4.6,4.6" fill="none" stroke="#f0f0e8" stroke-width="1.5"/>
<rect x="1492.7" y="262.59999999999997" width="23.6" height="23.6" rx="4.5" fill="#0f3a1c" stroke="#2f8f55" stroke-width="1.4"/>
<path d="M1499.9,276.59999999999997 l4.6,-4.6 l4.6,4.6" fill="none" stroke="#f0f0e8" stroke-width="1.5"/>
<rect x="1525.3" y="262.59999999999997" width="23.6" height="23.6" rx="4.5" fill="#0f3a1c" stroke="#2f8f55" stroke-width="1.4"/>
<path d="M1532.5,276.59999999999997 l4.6,-4.6 l4.6,4.6" fill="none" stroke="#f0f0e8" stroke-width="1.5"/>
<rect x="1557.9" y="262.59999999999997" width="23.6" height="23.6" rx="4.5" fill="#0f3a1c" stroke="#2f8f55" stroke-width="1.4"/>
<path d="M1565.1000000000001,276.59999999999997 l4.6,-4.6 l4.6,4.6" fill="none" stroke="#f0f0e8" stroke-width="1.5"/>
<rect x="1291.8" y="570" width="137" height="30.8" fill="#9e47ba"/>
<rect x="1291.8" y="570" width="137" height="1.4" fill="#e3a2f4"/>
<rect x="1291.8" y="599.4" width="137" height="1.4" fill="#e3a2f4"/>
<text x="1307.4" y="593.3" font-weight="bold" fill="#000" opacity="0.45" stroke="#000" stroke-width="0.7" textLength="108" lengthAdjust="spacingAndGlyphs"><tspan font-size="21">Q</tspan><tspan font-size="17.2">UEEN</tspan><tspan font-size="17.2"> </tspan><tspan font-size="21">S</tspan><tspan font-size="17.2">TREET</tspan></text>
<text x="1306.5" y="592.4" font-weight="bold" fill="#fbf6f0" stroke="#fbf6f0" stroke-width="0.7" textLength="108" lengthAdjust="spacingAndGlyphs"><tspan font-size="21">Q</tspan><tspan font-size="17.2">UEEN</tspan><tspan font-size="17.2"> </tspan><tspan font-size="21">S</tspan><tspan font-size="17.2">TREET</tspan></text>
<path d="M1426.5,598.0 V579.8000000000001 L1438.3,573.8000000000001 L1450.1,579.8000000000001 V598.0 Z" fill="#030303" stroke="#e9e2da" stroke-width="2" stroke-linejoin="round"/>
<line x1="1430.8" y1="587.8000000000001" x2="1445.8" y2="587.8000000000001" stroke="#a9a9a9" stroke-width="1.2"/>
<circle cx="1431.8" cy="587.8000000000001" r="1.7" fill="#b5b5b5"/>
<circle cx="1438.3" cy="587.8000000000001" r="1.7" fill="#b5b5b5"/>
<circle cx="1444.8" cy="587.8000000000001" r="1.7" fill="#b5b5b5"/>
<rect x="1460.3" y="574.3000000000001" width="23.6" height="23.6" rx="4.5" fill="#0f3a1c" stroke="#2f8f55" stroke-width="1.4"/>
<path d="M1467.5,588.3000000000001 l4.6,-4.6 l4.6,4.6" fill="none" stroke="#f0f0e8" stroke-width="1.5"/>
<rect x="1492.7" y="574.3000000000001" width="23.6" height="23.6" rx="4.5" fill="#0f3a1c" stroke="#2f8f55" stroke-width="1.4"/>
<path d="M1499.5,586.3000000000001 l5,-5 l5,5 M1499.5,591.5 l5,-5 l5,5" fill="none" stroke="#f0f0e8" stroke-width="1.5"/>
<rect x="1525.3" y="574.3000000000001" width="23.6" height="23.6" rx="4.5" fill="#0f3a1c" stroke="#2f8f55" stroke-width="1.4"/>
<path d="M1532.5,588.3000000000001 l4.6,-4.6 l4.6,4.6" fill="none" stroke="#f0f0e8" stroke-width="1.5"/>
<rect x="1557.9" y="574.3000000000001" width="23.6" height="23.6" rx="4.5" fill="#0f3a1c" stroke="#2f8f55" stroke-width="1.4"/>
<path d="M1565.1000000000001,588.3000000000001 l4.6,-4.6 l4.6,4.6" fill="none" stroke="#f0f0e8" stroke-width="1.5"/>
<radialGradient id="vig" cx="0.5" cy="0.52" r="0.62" gradientTransform="translate(0.5 0.52) scale(1 0.78) translate(-0.5 -0.52)"><stop offset="0.55" stop-color="#000" stop-opacity="0"/><stop offset="0.8" stop-color="#000" stop-opacity="0.14"/><stop offset="1" stop-color="#000" stop-opacity="0.42"/></radialGradient>
<rect x="0" y="0" width="1920" height="1080" fill="url(#vig)"/>
</g>
<g id="ui">
<rect x="796.1999999999999" y="17.3" width="104.0" height="35.4" rx="6" fill="#1b1b1b" stroke="#2f2f2f" stroke-width="1.6"/>
<rect x="910.8" y="17.3" width="69.0" height="35.4" rx="6" fill="#1b1b1b" stroke="#2f2f2f" stroke-width="1.6"/>
<rect x="990.4" y="17.3" width="62.800000000000004" height="35.4" rx="6" fill="#1b1b1b" stroke="#2f2f2f" stroke-width="1.6"/>
<rect x="1063.8" y="17.3" width="60.0" height="35.4" rx="6" fill="#1b1b1b" stroke="#2f2f2f" stroke-width="1.6"/>
<rect x="804.2" y="29" width="20" height="14.4" rx="2.4" fill="none" stroke="#ffe600" stroke-width="1.6"/>
<path d="M804.2,31.4 v-2.6 a2.6,2.6 0 0 1 2.6,-2.6 H821.4" fill="none" stroke="#ffe600" stroke-width="1.6"/>
<circle cx="819.4" cy="37" r="1.3" fill="#ffe600"/>
<text x="833.4" y="41.2" font-size="18.5" font-weight="bold" fill="#e9e9e9" stroke="#e9e9e9" stroke-width="0.5" textLength="60" lengthAdjust="spacingAndGlyphs">45,650</text>
<polygon points="930.00,25.30 933.06,32.09 940.46,32.90 934.95,37.91 936.47,45.20 930.00,41.50 923.53,45.20 925.05,37.91 919.54,32.90 926.94,32.09" fill="none" stroke="#ffe600" stroke-width="1.7" stroke-linejoin="round"/>
<text x="951" y="41.2" font-size="18.5" font-weight="bold" fill="#e9e9e9" stroke="#e9e9e9" stroke-width="0.5" textLength="21.2" lengthAdjust="spacingAndGlyphs">29</text>
<g fill="none" stroke="#2fe12f" stroke-width="1.8" stroke-linejoin="round" stroke-linecap="round"><path d="M998.2,29.400000000000002 a3.6,3.6 0 0 1 3.6,-3.6 h9 a3.6,3.6 0 0 1 3.6,3.6 v9.6 a2.6,2.6 0 0 1 -2.6,2.6 h-11 a2.6,2.6 0 0 1 -2.6,-2.6 z"/><path d="M998.2,34.0 h16.2 M1001.0,41.8 l-2.8,3.6 M1011.6,41.8 l2.8,3.6 M999.8000000000001,44.0 h13"/></g><circle cx="1006.3000000000001" cy="37.900000000000006" r="1.3" fill="#2fe12f"/>
<text x="1024.7" y="41.2" font-size="18.5" font-weight="bold" fill="#e9e9e9" stroke="#e9e9e9" stroke-width="0.5" textLength="21.3" lengthAdjust="spacingAndGlyphs">35</text>
<path d="M991,49.2 H1044.4 V52.4 H994 Z" fill="#ffe600"/>
<g fill="none" stroke="#f02a2a" stroke-width="1.8" stroke-linejoin="round" stroke-linecap="round"><path d="M1071.6,29.400000000000002 a3.6,3.6 0 0 1 3.6,-3.6 h9 a3.6,3.6 0 0 1 3.6,3.6 v9.6 a2.6,2.6 0 0 1 -2.6,2.6 h-11 a2.6,2.6 0 0 1 -2.6,-2.6 z"/><path d="M1071.6,34.0 h16.2 M1074.4,41.8 l-2.8,3.6 M1085,41.8 l2.8,3.6 M1073.2,44.0 h13"/></g><circle cx="1079.7" cy="37.900000000000006" r="1.3" fill="#f02a2a"/>
<text x="1098" y="41.2" font-size="18.5" font-weight="bold" fill="#e9e9e9" stroke="#e9e9e9" stroke-width="0.5" textLength="18.6" lengthAdjust="spacingAndGlyphs">14</text>
<rect x="1794.3" y="17.5" width="40.9" height="40.4" rx="6" fill="#151515" stroke="#6a6a6a" stroke-width="1.4"/>
<rect x="1856.5" y="17.5" width="40.9" height="40.4" rx="6" fill="#151515" stroke="#6a6a6a" stroke-width="1.4"/>
<rect x="1806" y="29" width="17.6" height="17.6" rx="2" fill="none" stroke="#a9a9a9" stroke-width="1.6"/>
<text x="1814.8" y="43.4" font-size="14" font-weight="bold" fill="#a9a9a9" text-anchor="middle">?</text>
<circle cx="1868.6" cy="31.2" r="1.2" fill="#a9a9a9"/><line x1="1873" y1="31.2" x2="1887.5" y2="31.2" stroke="#a9a9a9" stroke-width="1.7"/>
<circle cx="1868.6" cy="38" r="1.2" fill="#a9a9a9"/><line x1="1873" y1="38" x2="1887.5" y2="38" stroke="#a9a9a9" stroke-width="1.7"/>
<circle cx="1868.6" cy="44.8" r="1.2" fill="#a9a9a9"/><line x1="1873" y1="44.8" x2="1887.5" y2="44.8" stroke="#a9a9a9" stroke-width="1.7"/>
<path d="M0,115.5 H242 V209.0 a5,5 0 0 1 -5,5 H0 Z" fill="#101010" stroke="#2a2a2a" stroke-width="1.2"/>
<rect x="19" y="143" width="222" height="15.7" fill="#2c2c2c"/>
<rect x="0" y="143" width="19" height="15.7" fill="#3b3b3b"/>
<text x="9.5" y="155.45" font-size="13" fill="#ececec" text-anchor="middle">1</text>
<rect x="0" y="158.7" width="241" height="16.3" fill="#0d0d0d"/>
<text x="9.5" y="171.45" font-size="13" fill="#ececec" text-anchor="middle">2</text>
<rect x="19" y="175" width="222" height="16.6" fill="#2c2c2c"/>
<rect x="0" y="175" width="19" height="16.6" fill="#3b3b3b"/>
<text x="9.5" y="187.9" font-size="13" fill="#ececec" text-anchor="middle">3</text>
<rect x="0" y="191.6" width="241" height="16.4" fill="#0d0d0d"/>
<text x="9.5" y="204.39999999999998" font-size="13" fill="#ececec" text-anchor="middle">4</text>
<rect x="212" y="143" width="29.5" height="65.0" fill="url(#fadeR)"/>
<line x1="19.3" y1="140" x2="19.3" y2="208.0" stroke="#333" stroke-width="1" stroke-dasharray="3 3"/>
<line x1="36.5" y1="140" x2="36.5" y2="208.0" stroke="#4a4a4a" stroke-width="1"/>
<line x1="144.6" y1="140" x2="144.6" y2="208.0" stroke="#4a4a4a" stroke-width="1"/>
<line x1="198.4" y1="140" x2="198.4" y2="208.0" stroke="#4a4a4a" stroke-width="1"/>
<text x="17.5" y="137.0" font-size="14.5" fill="#9a9a9a" textLength="31" lengthAdjust="spacingAndGlyphs">20:50</text>
<text x="75" y="137.0" font-size="14.5" fill="#9a9a9a" textLength="31" lengthAdjust="spacingAndGlyphs">21:00</text>
<text x="129" y="137.0" font-size="14.5" fill="#9a9a9a" textLength="31" lengthAdjust="spacingAndGlyphs">21:10</text>
<text x="181" y="137.0" font-size="14.5" fill="#9a9a9a" textLength="34" lengthAdjust="spacingAndGlyphs">21:20</text>
<path d="M29,180.2 h11.5 a4.5,3.8 0 0 1 0,7.6 h-11.5 z" fill="#4a4a4a" opacity="0.8"/>
<path d="M93.4,180.2 h11.5 a4.5,3.8 0 0 1 0,7.6 h-11.5 z" fill="#7b7b7b" opacity="1"/>
<path d="M110.3,180.2 h11.5 a4.5,3.8 0 0 1 0,7.6 h-11.5 z" fill="#7b7b7b" opacity="1"/>
<path d="M153,180.2 h11.5 a4.5,3.8 0 0 1 0,7.6 h-11.5 z" fill="#7b7b7b" opacity="1"/>
<path d="M163.6,196.2 h11.5 a4.5,3.8 0 0 1 0,7.6 h-11.5 z" fill="#7b7b7b" opacity="1"/>
<path d="M190.5,196.2 h11.5 a4.5,3.8 0 0 1 0,7.6 h-11.5 z" fill="#7b7b7b" opacity="1"/>
<line x1="90.6" y1="140" x2="90.6" y2="208.0" stroke="#e2c400" stroke-width="1.6"/>
<line x1="73" y1="133.5" x2="73" y2="208.0" stroke="#f4f4f4" stroke-width="2.2"/>
<rect x="49.3" y="123.5" width="48" height="17.4" rx="8.7" fill="#ececec"/>
<text x="73.3" y="137.3" font-size="14.5" font-weight="bold" fill="#111" text-anchor="middle" textLength="38.5" lengthAdjust="spacingAndGlyphs">20:56</text>
<rect x="64" y="210.4" width="115" height="2" rx="1" fill="#9a9a9a" opacity="0.8" filter="url(#b1)"/>
<path d="M0,84.5 H237 a15.8,15.8 0 0 1 0,31.5 H0 Z" fill="#646566"/>
<rect x="0" y="84.5" width="237" height="1.3" fill="#8b8c8d"/>
<line x1="0" y1="113.8" x2="226" y2="113.8" stroke="#8b8c8d" stroke-width="2.4" stroke-dasharray="4.2 3.4"/>
<circle cx="237.4" cy="100.25" r="15.6" fill="#646566" stroke="#8b8c8d" stroke-width="1" />
<circle cx="237.4" cy="100.25" r="17" fill="none" stroke="#000" stroke-opacity="0.35" stroke-width="2" filter="url(#b1)"/>
<path d="M234.3,94.45 l5.8,5.8 l-5.8,5.8" fill="none" stroke="#e8e8e8" stroke-width="1.7"/>
<text x="16" y="105.45" font-size="15.5" fill="#dedede" textLength="94" lengthAdjust="spacingAndGlyphs">Cumbernauld</text>
<circle cx="153.7" cy="100.25" r="6.7" fill="#e6e6e6"/>
<text x="153.7" y="104.05" font-size="10.5" font-weight="bold" fill="#646566" text-anchor="middle">?</text>
<g transform="translate(178,100.25)"><circle r="4.3" fill="none" stroke="#e6e6e6" stroke-width="3.4"/>
<rect x="-1.7" y="-6.9" width="3.4" height="3.4" rx="0.8" fill="#e6e6e6" transform="rotate(0)"/>
<rect x="-1.7" y="-6.9" width="3.4" height="3.4" rx="0.8" fill="#e6e6e6" transform="rotate(60)"/>
<rect x="-1.7" y="-6.9" width="3.4" height="3.4" rx="0.8" fill="#e6e6e6" transform="rotate(120)"/>
<rect x="-1.7" y="-6.9" width="3.4" height="3.4" rx="0.8" fill="#e6e6e6" transform="rotate(180)"/>
<rect x="-1.7" y="-6.9" width="3.4" height="3.4" rx="0.8" fill="#e6e6e6" transform="rotate(240)"/>
<rect x="-1.7" y="-6.9" width="3.4" height="3.4" rx="0.8" fill="#e6e6e6" transform="rotate(300)"/>
</g>
<path d="M201,96.25 l8,8 M209,96.25 l-8,8" stroke="#e6e6e6" stroke-width="1.5"/>
<path d="M0,272.5 H242 V382.5 a5,5 0 0 1 -5,5 H0 Z" fill="#101010" stroke="#2a2a2a" stroke-width="1.2"/>
<rect x="19" y="301" width="222" height="16" fill="#2c2c2c"/>
<rect x="0" y="301" width="19" height="16" fill="#3b3b3b"/>
<rect x="0" y="317" width="241" height="16.5" fill="#0d0d0d"/>
<text x="9.5" y="329.85" font-size="13" fill="#ececec" text-anchor="middle">2</text>
<rect x="19" y="333.5" width="222" height="16.5" fill="#2c2c2c"/>
<rect x="0" y="333.5" width="19" height="16.5" fill="#3b3b3b"/>
<text x="9.5" y="346.35" font-size="13" fill="#ececec" text-anchor="middle">3</text>
<rect x="0" y="350" width="241" height="15.7" fill="#0d0d0d"/>
<text x="9.5" y="362.45000000000005" font-size="13" fill="#ececec" text-anchor="middle">4</text>
<rect x="19" y="365.7" width="222" height="16.3" fill="#2c2c2c"/>
<rect x="0" y="365.7" width="19" height="16.3" fill="#3b3b3b"/>
<rect x="212" y="301" width="29.5" height="81.0" fill="url(#fadeR)"/>
<line x1="19.3" y1="298" x2="19.3" y2="382.0" stroke="#333" stroke-width="1" stroke-dasharray="3 3"/>
<line x1="36.5" y1="298" x2="36.5" y2="382.0" stroke="#4a4a4a" stroke-width="1"/>
<line x1="144.6" y1="298" x2="144.6" y2="382.0" stroke="#4a4a4a" stroke-width="1"/>
<line x1="198.4" y1="298" x2="198.4" y2="382.0" stroke="#4a4a4a" stroke-width="1"/>
<text x="17.5" y="294.0" font-size="14.5" fill="#9a9a9a" textLength="31" lengthAdjust="spacingAndGlyphs">20:50</text>
<text x="75" y="294.0" font-size="14.5" fill="#9a9a9a" textLength="31" lengthAdjust="spacingAndGlyphs">21:00</text>
<text x="129" y="294.0" font-size="14.5" fill="#9a9a9a" textLength="31" lengthAdjust="spacingAndGlyphs">21:10</text>
<text x="181" y="294.0" font-size="14.5" fill="#9a9a9a" textLength="34" lengthAdjust="spacingAndGlyphs">21:20</text>
<path d="M109.8,321.6 h11.5 a4.5,3.8 0 0 1 0,7.6 h-11.5 z" fill="#7b7b7b" opacity="1"/>
<path d="M212.4,321.6 h11.5 a4.5,3.8 0 0 1 0,7.6 h-11.5 z" fill="#7b7b7b" opacity="1"/>
<path d="M219,323.20000000000005 h-2 v4.6 h2 M219,325.5 h4.6 M221.8,323.6 l2,1.9 l-2,1.9" fill="none" stroke="#242424" stroke-width="1.1"/>
<path d="M60.7,353.8 h11.5 a4.5,3.8 0 0 1 0,7.6 h-11.5 z" fill="#7b7b7b" opacity="1"/>
<path d="M67.5,355.40000000000003 h-2 v4.6 h2 M67.5,357.7 h4.6 M70.3,355.8 l2,1.9 l-2,1.9" fill="none" stroke="#242424" stroke-width="1.1"/>
<path d="M88,353.8 h11.5 a4.5,3.8 0 0 1 0,7.6 h-11.5 z" fill="#7b7b7b" opacity="1"/>
<path d="M95,355.40000000000003 h-2 v4.6 h2 M95,357.7 h4.6 M97.8,355.8 l2,1.9 l-2,1.9" fill="none" stroke="#242424" stroke-width="1.1"/>
<path d="M134,354 h3.5 l2.5,2 l-2.5,1.8 l2.5,2 l-2.5,1.8 h-3.5 z" fill="#1aa7d8"/>
<path d="M223,353.8 h11.5 a4.5,3.8 0 0 1 0,7.6 h-11.5 z" fill="#6a6a6a" opacity="1"/>
<line x1="90.6" y1="298" x2="90.6" y2="382.0" stroke="#e2c400" stroke-width="1.6"/>
<line x1="73" y1="290.5" x2="73" y2="382.0" stroke="#f4f4f4" stroke-width="2.2"/>
<rect x="49.3" y="280.5" width="48" height="17.4" rx="8.7" fill="#ececec"/>
<text x="73.3" y="294.3" font-size="14.5" font-weight="bold" fill="#111" text-anchor="middle" textLength="38.5" lengthAdjust="spacingAndGlyphs">20:56</text>
<rect x="64" y="383.9" width="115" height="2" rx="1" fill="#9a9a9a" opacity="0.8" filter="url(#b1)"/>
<path d="M0,241.5 H237 a15.8,15.8 0 0 1 0,31.5 H0 Z" fill="#2a9c9e"/>
<rect x="0" y="241.5" width="237" height="1.3" fill="#3fd0cf"/>
<line x1="0" y1="270.8" x2="226" y2="270.8" stroke="#4fdcd8" stroke-width="2.4" stroke-dasharray="4.2 3.4"/>
<circle cx="237.4" cy="257.25" r="15.6" fill="#2a9c9e" stroke="#3fd0cf" stroke-width="1" />
<circle cx="237.4" cy="257.25" r="17" fill="none" stroke="#000" stroke-opacity="0.35" stroke-width="2" filter="url(#b1)"/>
<path d="M234.3,251.45 l5.8,5.8 l-5.8,5.8" fill="none" stroke="#e8e8e8" stroke-width="1.7"/>
<text x="16" y="262.45" font-size="15.5" fill="#dedede" textLength="56" lengthAdjust="spacingAndGlyphs">Ashfield</text>
<circle cx="153.7" cy="257.25" r="6.7" fill="#e6e6e6"/>
<text x="153.7" y="261.05" font-size="10.5" font-weight="bold" fill="#2a9c9e" text-anchor="middle">?</text>
<g transform="translate(178,257.25)"><circle r="4.3" fill="none" stroke="#e6e6e6" stroke-width="3.4"/>
<rect x="-1.7" y="-6.9" width="3.4" height="3.4" rx="0.8" fill="#e6e6e6" transform="rotate(0)"/>
<rect x="-1.7" y="-6.9" width="3.4" height="3.4" rx="0.8" fill="#e6e6e6" transform="rotate(60)"/>
<rect x="-1.7" y="-6.9" width="3.4" height="3.4" rx="0.8" fill="#e6e6e6" transform="rotate(120)"/>
<rect x="-1.7" y="-6.9" width="3.4" height="3.4" rx="0.8" fill="#e6e6e6" transform="rotate(180)"/>
<rect x="-1.7" y="-6.9" width="3.4" height="3.4" rx="0.8" fill="#e6e6e6" transform="rotate(240)"/>
<rect x="-1.7" y="-6.9" width="3.4" height="3.4" rx="0.8" fill="#e6e6e6" transform="rotate(300)"/>
</g>
<path d="M201,253.25 l8,8 M209,253.25 l-8,8" stroke="#e6e6e6" stroke-width="1.5"/>
<rect x="866" y="874.5" width="188" height="58" rx="8" fill="#000" opacity="0.35" filter="url(#b2)"/>
<rect x="869.3" y="877.8" width="181.6" height="52.1" rx="6" fill="#181818" stroke="#303030" stroke-width="1.6"/>
<circle cx="887" cy="903.2" r="10.2" fill="none" stroke="#ffe600" stroke-width="1.9"/>
<path d="M886.6,897 v6.6 l4.6,3" fill="none" stroke="#ffe600" stroke-width="1.9" stroke-linecap="round" stroke-linejoin="round"/>
<text x="916.5" y="915" font-size="34.5" font-weight="bold" fill="#ebebeb" stroke="#ebebeb" stroke-width="0.9" textLength="86.5" lengthAdjust="spacingAndGlyphs">20:56</text>
<text x="1006" y="908.6" font-size="14.5" font-weight="bold" fill="#ebebeb" stroke="#ebebeb" stroke-width="0.4" textLength="18" lengthAdjust="spacingAndGlyphs">43</text>
<rect x="869.3" y="938.5" width="28.4" height="28.0" rx="6" fill="#171717" stroke="#585858" stroke-width="1.6"/>
<rect x="907.8" y="938.6" width="28.2" height="27.8" rx="6" fill="#171717" stroke="#d8bd00" stroke-width="1.8"/>
<rect x="945.9" y="938.5" width="28.4" height="28.0" rx="6" fill="#171717" stroke="#585858" stroke-width="1.6"/>
<rect x="984.1999999999999" y="938.5" width="28.4" height="28.0" rx="6" fill="#171717" stroke="#585858" stroke-width="1.6"/>
<rect x="1022.4" y="938.5" width="28.4" height="28.0" rx="6" fill="#171717" stroke="#585858" stroke-width="1.6"/>
<rect x="878.6" y="947.6" width="4" height="10.2" rx="1.4" fill="#7c7c7c"/><rect x="884.2" y="947.6" width="4" height="10.2" rx="1.4" fill="#7c7c7c"/>
<path d="M917.2,947.4 v10.4 l9,-5.2 z" fill="none" stroke="#ffe600" stroke-width="1.7" stroke-linejoin="round"/>
<text x="960" y="956.8" font-size="11.5" font-weight="bold" fill="#8e8e8e" stroke="#8e8e8e" stroke-width="0.3" text-anchor="middle" textLength="13.5" lengthAdjust="spacingAndGlyphs">3X</text>
<text x="998.4" y="956.8" font-size="11.5" font-weight="bold" fill="#8e8e8e" stroke="#8e8e8e" stroke-width="0.3" text-anchor="middle" textLength="18.5" lengthAdjust="spacingAndGlyphs">10X</text>
<text x="1036.6" y="956.8" font-size="11.5" font-weight="bold" fill="#8e8e8e" stroke="#8e8e8e" stroke-width="0.3" text-anchor="middle" textLength="19.5" lengthAdjust="spacingAndGlyphs">25X</text>
<rect x="22.75" y="929.75" width="40.8" height="41.1" rx="5.5" fill="#141414" stroke="#6d6d6d" stroke-width="1.5"/>
<rect x="87.35" y="929.75" width="40.8" height="41.1" rx="5.5" fill="#141414" stroke="#6d6d6d" stroke-width="1.5"/>
<rect x="152.45" y="929.75" width="40.8" height="41.1" rx="5.5" fill="#141414" stroke="#6d6d6d" stroke-width="1.5"/>
<g fill="none" stroke="#8b8b8b" stroke-width="1.7" stroke-linejoin="round" stroke-linecap="round"><circle cx="41.5" cy="942.2" r="1.5" fill="#8b8b8b" stroke="none"/><path d="M34.2,949.6 C35.4,944.4 41.6,944.6 43,950.4 L45,955.6"/><path d="M31.4,949 L46,956.6"/><path d="M34.6,951.2 L31.6,960.4"/><path d="M36.8,954.4 L39.8,956 V960.4"/><path d="M42.4,960.2 H54.8 M44.6,960.2 L49.4,952.4 L54.2,960.2"/></g>
<g fill="none" stroke="#8b8b8b" stroke-width="1.7"><rect x="100.6" y="943.2" width="14.4" height="14.4" rx="2"/><rect x="105" y="947.6" width="5.6" height="5.6"/><path d="M104,940 v3.2 M107.8,940 v3.2 M111.6,940 v3.2 M104,957.6 v3.2 M107.8,957.6 v3.2 M111.6,957.6 v3.2 M97.4,946.6 h3.2 M97.4,950.4 h3.2 M97.4,954.2 h3.2 M115,946.6 h3.2 M115,950.4 h3.2 M115,954.2 h3.2"/></g>
<g fill="none" stroke="#8b8b8b" stroke-width="1.6" stroke-linejoin="round"><path d="M181.4,955.6 V942.6 a2,2 0 0 0 -2,-2 h-12.6 a2.4,2.4 0 0 0 -2.4,2.4 V957.6 a2.4,2.4 0 0 0 2.4,2.4 H181.8 M181.4,955.4 h-14.6 a2.3,2.3 0 0 0 -2.3,2.3"/><path d="M169.2,945.4 h8 M169.2,948.8 h8"/></g>
<rect x="0" y="982.6" width="1920" height="97.4" fill="#161616"/>
<rect x="0" y="982.4" width="1920" height="1.4" fill="#3a3a3a"/>
<linearGradient id="bsh2" x1="0" x2="1" y1="0" y2="0"><stop offset="0" stop-color="#161616"/><stop offset="1" stop-color="#0a0a0a"/></linearGradient>
<rect x="1892" y="984" width="28" height="96" fill="url(#bsh2)"/>
<linearGradient id="bsh" x1="0" x2="1" y1="0" y2="0"><stop offset="0" stop-color="#080808"/><stop offset="1" stop-color="#161616"/></linearGradient>
<rect x="324" y="984" width="44" height="96" fill="url(#bsh)"/>
<rect x="323" y="984" width="1.6" height="96" fill="#2a2a2a"/>
<g fill="none" stroke="#ffe600" stroke-width="2.1" stroke-linejoin="round"><path d="M25.4,995 a2.3,2.3 0 0 1 2.3,-2.3 h7.3 l4.6,4.6 v12.2 a2.3,2.3 0 0 1 -2.3,2.3 h-9.6 a2.3,2.3 0 0 1 -2.3,-2.3 z"/><path d="M35,992.7 l4.6,4.6 h-4.6 z" fill="#ffe600" stroke-width="1"/><path d="M28.6,996.8 h3.8 M28.6,1000.2 h3 M28.4,1008.6 l2.6,-3.6 l1.8,3 l1,-1 l1.8,1.6" stroke-width="1.5"/></g>
<text x="49" y="1008.4" font-size="19" font-weight="bold" fill="#dedede" stroke="#dedede" stroke-width="0.45" textLength="160.5" lengthAdjust="spacingAndGlyphs">UPCOMING TRAINS</text>
<rect x="208.7" y="1026.4" width="41.6" height="41.4" rx="6.5" fill="#161616" stroke="#4d4d4d" stroke-width="1.4"/>
<rect x="262.7" y="1026.4" width="41.6" height="41.4" rx="6.5" fill="#161616" stroke="#4d4d4d" stroke-width="1.4"/>
<path d="M235.86,1045.58 L235.86,1048.82 L233.60,1048.88 L232.74,1050.96 L234.29,1052.61 L232.01,1054.89 L230.36,1053.34 L228.28,1054.20 L228.22,1056.46 L224.98,1056.46 L224.92,1054.20 L222.84,1053.34 L221.19,1054.89 L218.91,1052.61 L220.46,1050.96 L219.60,1048.88 L217.34,1048.82 L217.34,1045.58 L219.60,1045.52 L220.46,1043.44 L218.91,1041.79 L221.19,1039.51 L222.84,1041.06 L224.92,1040.20 L224.98,1037.94 L228.22,1037.94 L228.28,1040.20 L230.36,1041.06 L232.01,1039.51 L234.29,1041.79 L232.74,1043.44 L233.60,1045.52 Z" fill="none" stroke="#8d8d8d" stroke-width="1.5" stroke-linejoin="round"/>
<path d="M229,1044.6 a3.4,3.4 0 1 0 0,5.4" fill="none" stroke="#8d8d8d" stroke-width="1.5"/>
<path d="M230.4,1043.6 h6.4 l4.4,4.4 v9.8 h-10.8 z" fill="#8d8d8d" stroke="#161616" stroke-width="1.4" stroke-linejoin="round"/>
<line x1="273" y1="1040.6" x2="294" y2="1040.6" stroke="#8d8d8d" stroke-width="1.5"/><circle cx="280.4" cy="1040.6" r="2.3" fill="#161616" stroke="#8d8d8d" stroke-width="1.4"/>
<line x1="273" y1="1047.2" x2="294" y2="1047.2" stroke="#8d8d8d" stroke-width="1.5"/><circle cx="287.6" cy="1047.2" r="2.3" fill="#161616" stroke="#8d8d8d" stroke-width="1.4"/>
<line x1="273" y1="1053.8" x2="294" y2="1053.8" stroke="#8d8d8d" stroke-width="1.5"/><circle cx="279.6" cy="1053.8" r="2.3" fill="#161616" stroke="#8d8d8d" stroke-width="1.4"/>
<rect x="292.84999999999997" y="1012.85" width="25.3" height="24.9" rx="4" fill="#1f1f1f" stroke="#353535" stroke-width="1.3"/>
<text x="305.4" y="1030.4" font-size="14.5" font-weight="bold" fill="#c4c4c4" text-anchor="middle" textLength="9" lengthAdjust="spacingAndGlyphs">X</text>
<text x="5.4" y="1074" font-size="11.5" fill="#c9c9c9" textLength="26.5" lengthAdjust="spacingAndGlyphs">1.19.2</text>
<rect x="360.25" y="1010.75" width="40.8" height="40.7" rx="6.5" fill="#181818" stroke="#2f2f2f" stroke-width="1.5"/>
<text x="380.4" y="1040" font-size="24" font-weight="bold" fill="#7d7d7d" text-anchor="middle" textLength="13.5" lengthAdjust="spacingAndGlyphs">T</text>
<g fill="none" stroke="#ffd21c" stroke-width="1.6" stroke-linejoin="round" stroke-linecap="round"><path d="M411.2,1013.1999999999999 a2.8,2.8 0 0 1 2.8,-2.8 h7 a2.8,2.8 0 0 1 2.8,2.8 v7.4 a2,2 0 0 1 -2,2 h-8.6 a2,2 0 0 1 -2,-2 z"/><path d="M411.2,1016.8 h12.6 M413.2,1022.8 l-2,2.6 M421.8,1022.8 l2,2.6 M412.4,1024.4 h10.2"/></g><circle cx="417.5" cy="1019.6999999999999" r="1" fill="#ffd21c"/>
<text x="430.4" y="1025" font-size="19.5" font-weight="bold" fill="#e8e8e8" stroke="#e8e8e8" stroke-width="0.45" textLength="78.2" lengthAdjust="spacingAndGlyphs">COM2513</text>
<text x="515" y="1022.8" font-size="12" fill="#b8b8b8" textLength="27" lengthAdjust="spacingAndGlyphs">21:00</text>
<g fill="none" stroke="#ffd21c" stroke-width="1.6" stroke-linejoin="round" stroke-linecap="round"><path d="M567.6,1013.1999999999999 a2.8,2.8 0 0 1 2.8,-2.8 h7 a2.8,2.8 0 0 1 2.8,2.8 v7.4 a2,2 0 0 1 -2,2 h-8.6 a2,2 0 0 1 -2,-2 z"/><path d="M567.6,1016.8 h12.6 M569.6,1022.8 l-2,2.6 M578.1999999999999,1022.8 l2,2.6 M568.8,1024.4 h10.2"/></g><circle cx="573.9" cy="1019.6999999999999" r="1" fill="#ffd21c"/>
<text x="586.5" y="1025" font-size="19.5" font-weight="bold" fill="#e8e8e8" stroke="#e8e8e8" stroke-width="0.45" textLength="82.5" lengthAdjust="spacingAndGlyphs">COM7448</text>
<text x="675.4" y="1022.8" font-size="12" fill="#b8b8b8" textLength="27" lengthAdjust="spacingAndGlyphs">21:00</text>
<g fill="none" stroke="#ffd21c" stroke-width="1.6" stroke-linejoin="round" stroke-linecap="round"><path d="M728.2,1013.1999999999999 a2.8,2.8 0 0 1 2.8,-2.8 h7 a2.8,2.8 0 0 1 2.8,2.8 v7.4 a2,2 0 0 1 -2,2 h-8.6 a2,2 0 0 1 -2,-2 z"/><path d="M728.2,1016.8 h12.6 M730.2,1022.8 l-2,2.6 M738.8,1022.8 l2,2.6 M729.4,1024.4 h10.2"/></g><circle cx="734.5" cy="1019.6999999999999" r="1" fill="#ffd21c"/>
<text x="747.5" y="1025" font-size="19.5" font-weight="bold" fill="#e8e8e8" stroke="#e8e8e8" stroke-width="0.45" textLength="83" lengthAdjust="spacingAndGlyphs">COM5066</text>
<text x="836.7" y="1022.8" font-size="12" fill="#b8b8b8" textLength="27" lengthAdjust="spacingAndGlyphs">21:06</text>
<rect x="421.7" y="1033" width="109.3" height="21.6" rx="1.5" fill="#2ba1a8"/>
<rect x="421.7" y="1033" width="109.3" height="1.3" fill="#6fe4e4"/><rect x="421.7" y="1053.3" width="109.3" height="1.3" fill="#6fe4e4" opacity="0.8"/>
<text x="428.6" y="1049.8" font-weight="bold" fill="#f7f7f7" stroke="#f7f7f7" stroke-width="0.35" textLength="58" lengthAdjust="spacingAndGlyphs"><tspan font-size="17.5">A</tspan><tspan font-size="14">SHFIELD</tspan></text>
<path d="M494.4,1049.0 l2.4,-9.6 h6.4 l2.4,9.6 M493.6,1042.8000000000002 h12.8 M492,1046.6000000000001 h16" fill="none" stroke="#f7f7f7" stroke-width="1.9"/>
<text x="515" y="1049.4" font-size="16" fill="#f7f7f7">4</text>
<rect x="575.7" y="1033" width="117.8" height="21.6" rx="1.5" fill="#c6aa59"/>
<rect x="575.7" y="1033" width="117.8" height="1.3" fill="#ead794"/><rect x="575.7" y="1053.3" width="117.8" height="1.3" fill="#ead794" opacity="0.8"/>
<text x="582.6" y="1049.8" font-weight="bold" fill="#151515" stroke="#151515" stroke-width="0.35" textLength="67" lengthAdjust="spacingAndGlyphs"><tspan font-size="17.5">B</tspan><tspan font-size="14">RIDGETON</tspan></text>
<path d="M661.0,1049.0 l2.4,-9.6 h6.4 l2.4,9.6 M660.2,1042.8000000000002 h12.8 M658.6,1046.6000000000001 h16" fill="none" stroke="#151515" stroke-width="1.9"/>
<text x="678.8" y="1049.4" font-size="16" fill="#151515">2</text>
<rect x="736.7" y="1033" width="117.4" height="21.6" rx="1.5" fill="#c6aa59"/>
<rect x="736.7" y="1033" width="117.4" height="1.3" fill="#ead794"/><rect x="736.7" y="1053.3" width="117.4" height="1.3" fill="#ead794" opacity="0.8"/>
<text x="743.4" y="1049.8" font-weight="bold" fill="#151515" stroke="#151515" stroke-width="0.35" textLength="67" lengthAdjust="spacingAndGlyphs"><tspan font-size="17.5">B</tspan><tspan font-size="14">RIDGETON</tspan></text>
<path d="M822.0,1049.0 l2.4,-9.6 h6.4 l2.4,9.6 M821.2,1042.8000000000002 h12.8 M819.6,1046.6000000000001 h16" fill="none" stroke="#151515" stroke-width="1.9"/>
<text x="839.8" y="1049.4" font-size="16" fill="#151515">2</text>
</g>
</svg></body></html>
